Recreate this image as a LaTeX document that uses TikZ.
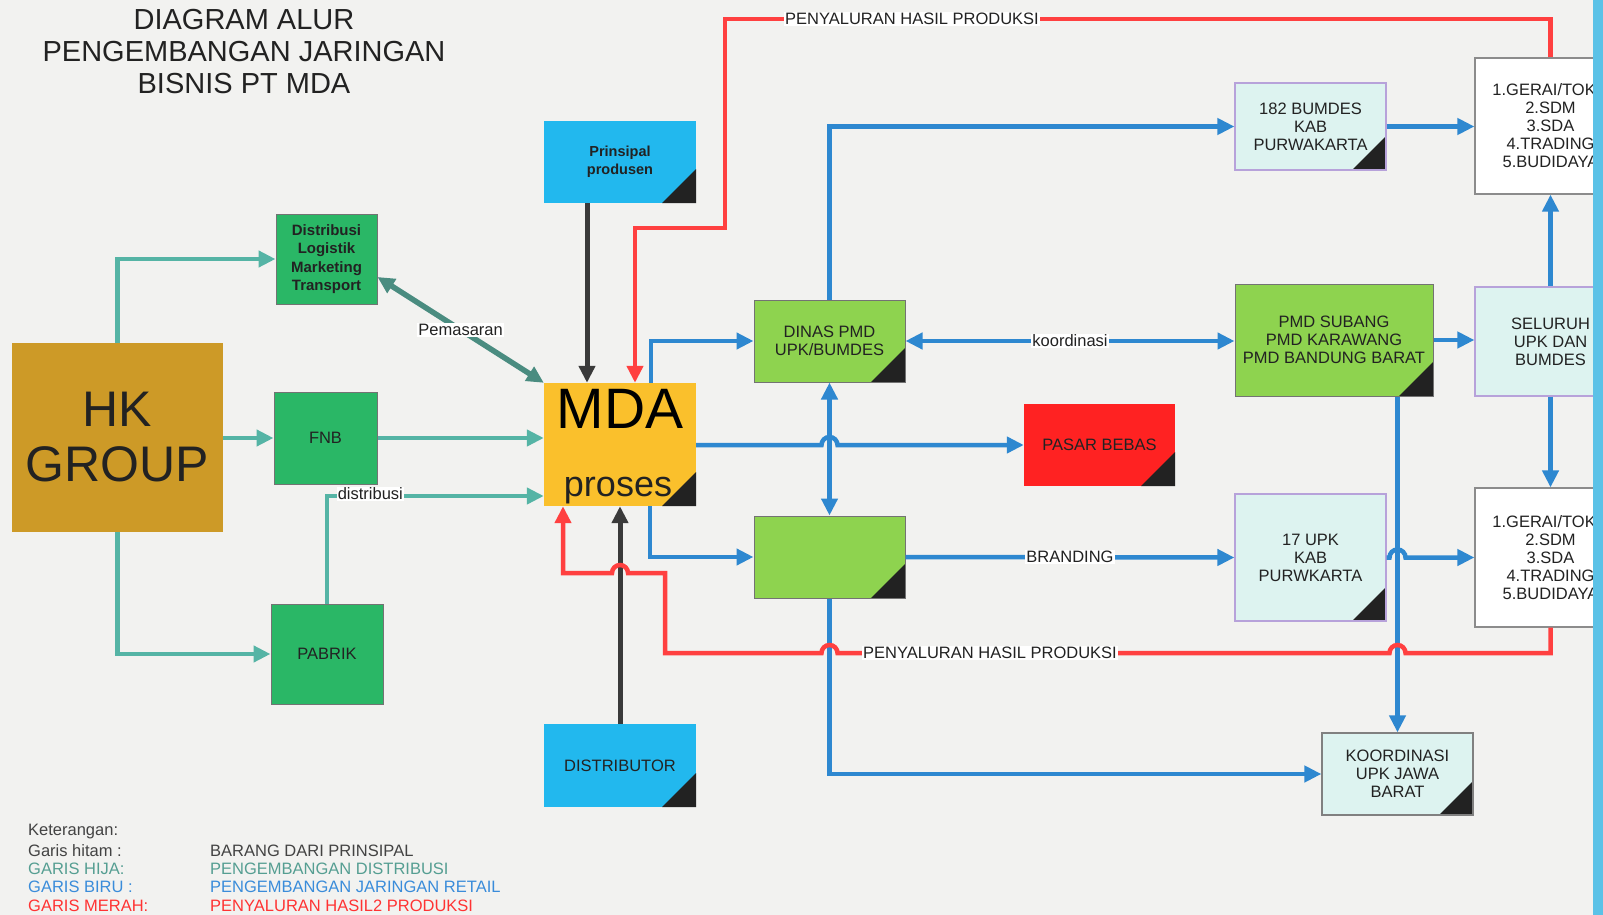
\documentclass[tikz,border=0pt]{standalone}
\usepackage{fontspec}
\setmainfont{Liberation Sans}
\usetikzlibrary{arrows.meta}
\newcommand\myfs[2]{\fontsize{#1}{#2}\selectfont}
\definecolor{bgc}{HTML}{F2F2F0}
\definecolor{hkc}{HTML}{CD9A27}
\definecolor{dgreen}{HTML}{2AB766}
\definecolor{cyanc}{HTML}{22B8EE}
\definecolor{mdac}{HTML}{FAC02C}
\definecolor{lgreen}{HTML}{8ED34F}
\definecolor{redc}{HTML}{FF2222}
\definecolor{lcyan}{HTML}{DDF3F0}
\definecolor{purp}{HTML}{B7A2DA}
\definecolor{tealc}{HTML}{55B4A5}
\definecolor{dteal}{HTML}{4A8C80}
\definecolor{bluec}{HTML}{2E88D0}
\definecolor{redl}{HTML}{FF4040}
\definecolor{blackl}{HTML}{3A3A3A}
\definecolor{stripc}{HTML}{5BC2E7}
\definecolor{txt}{HTML}{222222}
\definecolor{cornerc}{HTML}{222222}
\definecolor{legteal}{HTML}{559E92}
\definecolor{legblue}{HTML}{3A8CDA}
\definecolor{legred}{HTML}{FF3333}
\tikzset{
  box/.style={inner sep=0pt, align=center, text=txt, font=\myfs{16.5}{18}},
  dogear/.style={path picture={\fill[cornerc] ([xshift=-34pt]path picture bounding box.south east) -- (path picture bounding box.south east) -- ([yshift=34pt]path picture bounding box.south east) -- cycle;}},
  hkbox/.style={box, fill=hkc, font=\myfs{50}{55}},
  gbox/.style={box, fill=dgreen, draw=black!55, line width=1pt},
  cbox/.style={box, fill=cyanc, dogear},
  ybox/.style={box, fill=mdac, dogear},
  lgbox/.style={box, fill=lgreen, draw=black!55, line width=1pt, dogear},
  rbox/.style={box, fill=redc, dogear},
  lcbox/.style={box, fill=lcyan, draw=purp, line width=1.2pt, dogear},
  kbox/.style={box, fill=lcyan, draw=black!50, line width=1.2pt, dogear},
  wbox/.style={box, fill=white, draw=black!45, line width=1.2pt},
  tealln/.style={draw=tealc, line width=4.5pt},
  pemln/.style={draw=dteal, line width=5.5pt},
  blueln/.style={draw=bluec, line width=4.5pt},
  redln/.style={draw=redl, line width=4.5pt},
  blackln/.style={draw=blackl, line width=5pt},
  lbl/.style={fill=white, inner sep=1pt, text=txt, font=\myfs{16.5}{18}},
  leg/.style={anchor=west, inner sep=0pt, font=\myfs{16.5}{18}}
}
\begin{document}
\begin{tikzpicture}[x=1pt,y=1pt, >={Triangle[length=17pt,width=16pt]}]
\useasboundingbox (0,0) rectangle (1603,-915);
\fill[bgc] (0,0) rectangle (1603,-915);

% title
\node[align=center, text=txt, font=\myfs{29}{32}] (title) at (244,-51.5) {DIAGRAM ALUR\\PENGEMBANGAN JARINGAN\\BISNIS PT MDA};

% nodes
\node[hkbox, minimum width=211pt, minimum height=189pt] (hk) at (117.5,-437.5) {HK\\GROUP};
\node[gbox, minimum width=101pt, minimum height=90pt, font=\bfseries\myfs{15}{18.5}] (dist) at (326.5,-259) {Distribusi\\Logistik\\Marketing\\Transport};
\node[gbox, minimum width=103pt, minimum height=92pt] (fnb) at (325.5,-438) {FNB};
\node[gbox, minimum width=112pt, minimum height=100pt] (pabrik) at (327,-654) {PABRIK};
\node[cbox, minimum width=152pt, minimum height=82pt, font=\bfseries\myfs{14.5}{18}] (prin) at (620,-162) {Prinsipal\\produsen};
\node[ybox, minimum width=152pt, minimum height=123pt] (mda) at (620,-444.5) {};
\node[text=black, font=\myfs{57}{60}, inner sep=0pt] (mdat) at (620,-408.5) {MDA};
\node[text=txt, font=\myfs{36}{40}, inner sep=0pt] (mdap) at (618,-491) {proses};
\node[cbox, minimum width=152pt, minimum height=83pt] (distr) at (620,-765.5) {DISTRIBUTOR};
\node[lgbox, minimum width=151pt, minimum height=82pt] (dinas) at (829.5,-341) {DINAS PMD\\UPK/BUMDES};
\node[lgbox, minimum width=151pt, minimum height=82pt] (green) at (829.5,-557) {};
\node[rbox, minimum width=151pt, minimum height=82pt] (pasar) at (1099.5,-445) {PASAR BEBAS};
\node[lcbox, minimum width=151pt, minimum height=87pt] (b182) at (1310.5,-126.5) {182 BUMDES\\KAB\\PURWAKARTA};
\node[lgbox, minimum width=198pt, minimum height=112pt] (pmd) at (1334,-340) {PMD SUBANG\\PMD KARAWANG\\PMD BANDUNG BARAT};
\node[lcbox, minimum width=151pt, minimum height=127pt] (upk) at (1310.5,-557.5) {17 UPK\\KAB\\PURWKARTA};
\node[kbox, minimum width=151pt, minimum height=82pt] (koord) at (1397.5,-774) {KOORDINASI\\UPK JAWA\\BARAT};
\begin{scope}
\clip (0,0) rectangle (1593,-915);
\node[wbox, minimum width=151pt, minimum height=136pt] (wtop) at (1550.5,-126) {1.GERAI/TOKO\\2.SDM\\3.SDA\\4.TRADING\\5.BUDIDAYA};
\node[lcbox, minimum width=151pt, minimum height=109pt] (sel) at (1550.5,-341.5) {SELURUH\\UPK DAN\\BUMDES};
\node[wbox, minimum width=151pt, minimum height=139pt] (wbot) at (1550.5,-557.5) {1.GERAI/TOKO\\2.SDM\\3.SDA\\4.TRADING\\5.BUDIDAYA};
\end{scope}
\fill[stripc] (1593,0) rectangle (1603,-915);

% teal connectors
\draw[tealln,->] (hk.north) |- (dist.west);
\draw[tealln,->] (hk.east |- fnb.west) -- (fnb.west);
\draw[tealln,->] (hk.south) |- (pabrik.west);
\draw[tealln,->] (fnb.east) -- (fnb.east -| mda.west);
\draw[tealln,->] (pabrik.north) |- ([yshift=-51.5pt]mda.west) node[lbl,pos=0.6,yshift=2pt] {distribusi};
\draw[pemln,<->] ([yshift=-18pt]dist.east) -- node[lbl] {Pemasaran} (mda.north west);

% black connectors
\draw[blackln,->] ([xshift=-33pt]prin.south) -- ([xshift=-33pt]mda.north);
\draw[blackln,->] (distr.north) -- (mda.south);

% blue connectors
\draw[blueln,->] ([xshift=31pt]mda.north) |- (dinas.west);
\draw[blueln,->] (mda.east |- pasar.west) -- (821.5,-445) arc[start angle=180,end angle=0,radius=8pt] -- (pasar.west);
\draw[blueln,->] ([xshift=30pt]mda.south) |- (green.west);
\draw[blueln,<->] (dinas.south) -- (green.north);
\draw[blueln,->] (dinas.north) |- (b182.west);
\draw[blueln,->] (b182.east) -- (b182.east -| wtop.west);
\draw[blueln,<->] (dinas.east) -- node[lbl] {koordinasi} (dinas.east -| pmd.west);
\draw[blueln,->] (pmd.east) -- (pmd.east -| sel.west);
\draw[blueln,->] (sel.north) -- (wtop.south);
\draw[blueln,->] (sel.south) -- (wbot.north);
\draw[blueln,->] (green.east) -- node[lbl] {BRANDING} (upk.west);
\draw[blueln,->] (upk.east) -- (1389.5,-557.5) arc[start angle=180,end angle=0,radius=8pt] -- (wbot.west);
\draw[blueln,->] (koord.north |- pmd.south) -- (koord.north);
\draw[blueln,->] (green.south) |- (koord.west);

% red connectors
\coordinate (r1) at (725,-19);
\coordinate (r2) at (635,-228);
\draw[redln,->] (wtop.north) |- (r1) |- (r2) -- (r2 |- mda.north);
\node[lbl] (ltop) at (912,-19) {PENYALURAN HASIL PRODUKSI};
\draw[redln,->] (wbot.south) -- (1550.5,-653) -- (1405.5,-653) arc[start angle=0,end angle=180,radius=8pt] -- (837.5,-653) arc[start angle=0,end angle=180,radius=8pt] -- (665,-653) -- (665,-573) -- (628,-573) arc[start angle=0,end angle=180,radius=8pt] -- (563,-573) -- ([xshift=-57pt]mda.south);
\node[lbl] (lbot) at (990,-653) {PENYALURAN HASIL PRODUKSI};

% legend
\node[leg, text=txt!85] (k0) at (28,-832) {Keterangan:};
\node[leg, text=txt!85] (k1) at (28,-851) {Garis hitam :};
\node[leg, text=legteal] (k2) at (28,-869) {GARIS HIJA:};
\node[leg, text=legblue] (k3) at (28,-887) {GARIS BIRU :};
\node[leg, text=legred] (k4) at (28,-906) {GARIS MERAH:};
\node[leg, text=txt!85] (v1) at (210,-851) {BARANG DARI PRINSIPAL};
\node[leg, text=legteal] (v2) at (210,-869) {PENGEMBANGAN DISTRIBUSI};
\node[leg, text=legblue] (v3) at (210,-887) {PENGEMBANGAN JARINGAN RETAIL};
\node[leg, text=legred] (v4) at (210,-906) {PENYALURAN HASIL2 PRODUKSI};
\end{tikzpicture}
\end{document}
